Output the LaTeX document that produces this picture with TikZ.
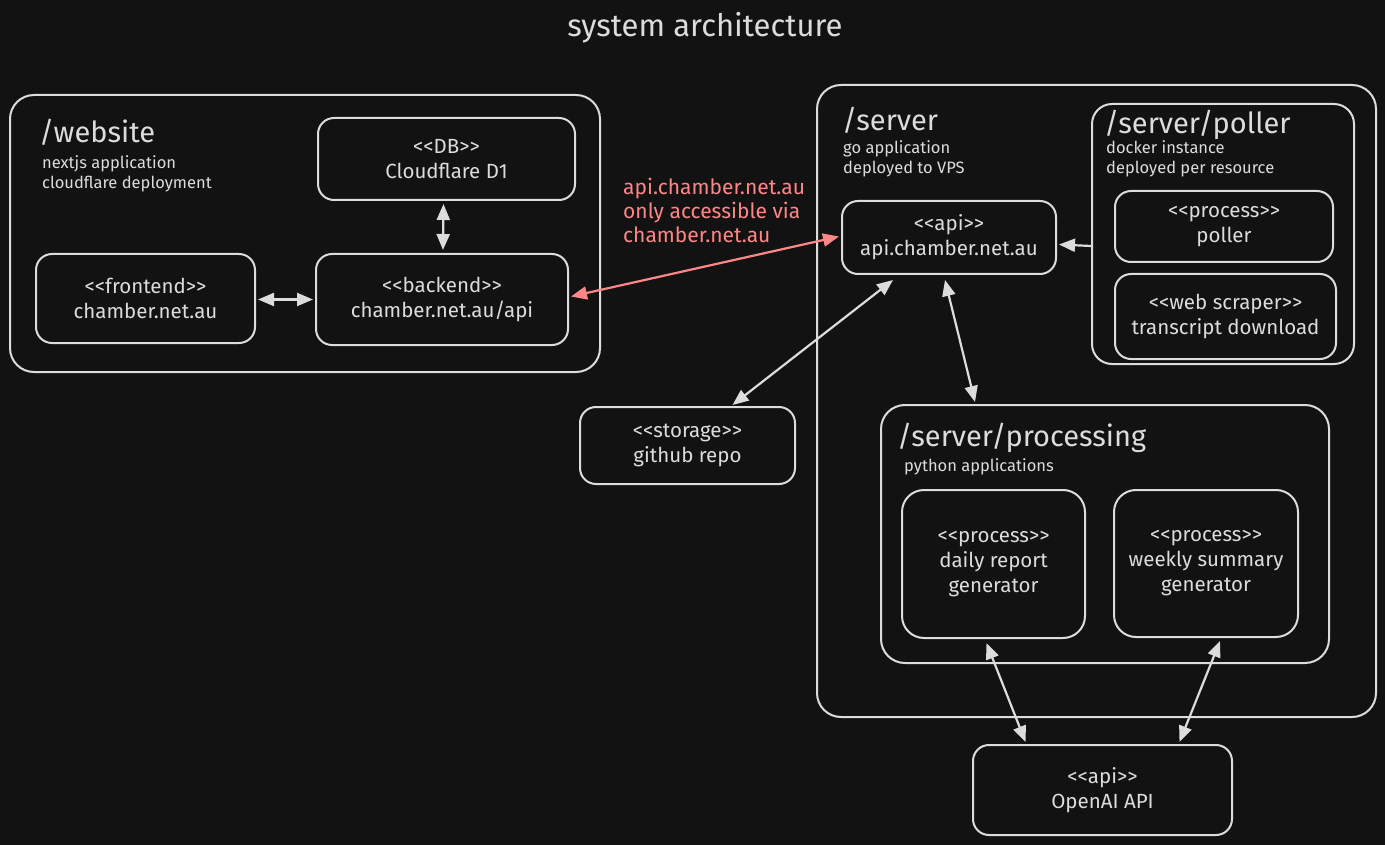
\documentclass[tikz,border=0pt]{standalone}
\usepackage{fontspec}
\setmainfont{Fira Sans}
\usetikzlibrary{arrows.meta,calc}
\definecolor{bg}{HTML}{121212}
\definecolor{fg}{HTML}{DCDCDC}
\definecolor{redc}{HTML}{FF8787}
\newcommand\lgl{<{}<}
\newcommand\rgl{>{}>}
\begin{document}
\begin{tikzpicture}[x=1pt,y=-1pt,
 box/.style={draw=fg, line width=2pt, rounded corners=16pt, inner sep=0pt, text=fg, align=center, font=\fontsize{20.5}{25}\selectfont},
 container/.style={draw=fg, line width=2pt, rounded corners=24pt, inner sep=0pt},
 bigtitle/.style={text=fg, anchor=west, font=\fontsize{29}{30}\selectfont, inner sep=0pt},
 note/.style={text=fg, anchor=west, align=left, font=\fontsize{16.5}{20}\selectfont, inner sep=0pt},
 redtext/.style={text=redc, anchor=west, align=left, font=\fontsize{21}{24}\selectfont, inner sep=0pt},
 conn/.style={draw=fg, line width=2.2pt, {Triangle[length=16pt,width=13pt]}-{Triangle[length=16pt,width=13pt]}},
 oneway/.style={draw=fg, line width=2.2pt, -{Triangle[length=16pt,width=13pt]}},
 redconn/.style={draw=redc, line width=2.2pt, {Triangle[length=16pt,width=13pt]}-{Triangle[length=16pt,width=13pt]}},
]
\useasboundingbox (0,0) rectangle (1385,845);
\fill[bg] (0,0) rectangle (1385,845);

\node[text=fg, font=\fontsize{31}{32}\selectfont] (title) at (705,28) {system architecture};

% website
\node[container, minimum width=590pt, minimum height=277pt] (website) at (305,233.5) {};
\node[bigtitle] (websitet) at (39,132) {/website};
\node[note] (websiten) at (42,174) {nextjs application\\cloudflare deployment};
\node[box, minimum width=257pt, minimum height=82pt] (db) at (446.5,159) {\lgl DB\rgl\\Cloudflare D1};
\node[box, minimum width=219pt, minimum height=89pt] (frontend) at (145.5,298.5) {\lgl frontend\rgl\\chamber.net.au};
\node[box, minimum width=252pt, minimum height=91pt] (backend) at (442,299.5) {\lgl backend\rgl\\chamber.net.au/api};

% red note
\node[redtext] (rednote) at (623,210) {api.chamber.net.au\\only accessible via\\chamber.net.au};

% server
\node[container, minimum width=559pt, minimum height=632pt] (server) at (1096.5,401) {};
\node[bigtitle] (servert) at (842,120) {/server};
\node[note] (servern) at (843,159) {go application\\deployed to VPS};
\node[box, minimum width=214pt, minimum height=73pt] (api) at (949,237.5) {\lgl api\rgl\\api.chamber.net.au};

\node[container, rounded corners=20pt, minimum width=262pt, minimum height=260pt] (pollerc) at (1223,234) {};
\node[bigtitle] (pollert) at (1104,125) {/server/poller};
\node[note] (pollern) at (1106,159) {docker instance\\deployed per resource};
\node[box, minimum width=218pt, minimum height=71pt] (procp) at (1224,226.5) {\lgl process\rgl\\poller};
\node[box, minimum width=221pt, minimum height=85pt] (scraper) at (1225.5,316.5) {\lgl web scraper\rgl\\transcript download};

\node[container, minimum width=448pt, minimum height=258pt] (procc) at (1105,534) {};
\node[bigtitle] (proct) at (897,438) {/server/processing};
\node[note] (procn) at (904,467) {python applications};
\node[box, rounded corners=22pt, minimum width=183pt, minimum height=148pt] (daily) at (993.5,564) {\lgl process\rgl\\daily report\\generator};
\node[box, rounded corners=22pt, minimum width=184pt, minimum height=147pt] (weekly) at (1206,563.5) {\lgl process\rgl\\weekly summary\\generator};

% outside
\node[box, minimum width=215pt, minimum height=77pt] (github) at (687.5,445.5) {\lgl storage\rgl\\github repo};
\node[box, minimum width=259pt, minimum height=90pt] (openai) at (1102.5,790) {\lgl api\rgl\\OpenAI API};

% connectors
\draw[conn] ($(db.south)+(-3,3)$) -- ($(backend.north)+(1,-3)$);
\draw[conn] ($(frontend.east)+(2,1)$) -- ($(backend.west)+(-2,0)$);
\draw[redconn] ($(backend.east)+(2,-3)$) -- ($(api.west)+(-2,-1)$);
\draw[oneway] ($(pollerc.west)+(0,12)$) -- ($(api.east)+(2,7)$);
\draw[conn] ($(github.north)+(45,-1)$) -- ($(api.south)+(-56,5)$);
\draw[conn] ($(api.south)+(-4,5)$) -- ($(procc.north)+(-130,-2)$);
\draw[conn] ($(daily.south)+(-7,4)$) -- ($(openai.north)+(-77,-2)$);
\draw[conn] ($(weekly.south)+(14,3)$) -- ($(openai.north)+(77,-2)$);
\end{tikzpicture}
\end{document}
